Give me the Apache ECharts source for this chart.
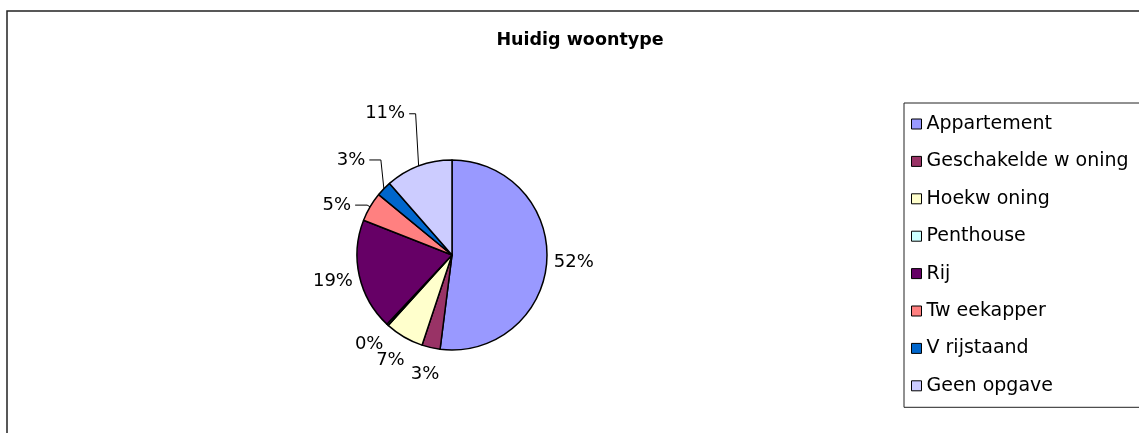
<!DOCTYPE html>
<html>
<head>
<meta charset="utf-8">
<script src="https://cdn.jsdelivr.net/npm/echarts@6/dist/echarts.min.js"></script>
<style>
  html, body { margin: 0; padding: 0; background: #fff; }
  #chart { width: 1139px; height: 433px; }
</style>
</head>
<body>
<div id="chart"></div>
<script>
const titleText = 'Huidig woontype';
const categories = ['Appartement', 'Geschakelde w oning', 'Hoekw oning', 'Penthouse', 'Rij', 'Tw eekapper', 'V rijstaand', 'Geen opgave'];
const values = [51.9, 3.1, 6.6, 0.3, 18.9, 5.0, 2.6, 11.4];
const colors = ['#9999FF', '#993366', '#FFFFCC', '#CCFFFF', '#660066', '#FF8080', '#0066CC', '#CCCCFF'];

// layout settings (not data)
const CX = 452, CY = 255, R = 95;
const LABEL_R = R + 27;
const FONT = 'DejaVu Sans';
const leaderShift = { 5: [-10, 12], 6: [-13.5, -10], 7: [-24, -27] };

const total = values.reduce((a, b) => a + b, 0);

const chart = echarts.init(document.getElementById('chart'), null, { renderer: 'canvas' });

const data = categories.map((name, i) => ({
  name: name,
  value: values[i],
  itemStyle: { color: colors[i] },
  labelLine: { show: !!leaderShift[i] }
}));

chart.setOption({
  animation: false,
  backgroundColor: '#fff',
  title: {
    text: titleText,
    left: 580,
    top: 31,
    textAlign: 'center',
    padding: 0,
    textStyle: { fontFamily: FONT, fontWeight: 'bold', fontSize: 17.5, color: '#000' }
  },
  legend: {
    orient: 'vertical',
    left: 904,
    top: 103,
    data: categories,
    icon: 'rect',
    itemWidth: 10,
    itemHeight: 10,
    itemGap: 18.4,
    itemTextGap: 12,
    itemStyle: { borderColor: '#000', borderWidth: 1 },
    padding: [11.5, 30, 12, 7],
    backgroundColor: '#fff',
    borderColor: '#222',
    borderWidth: 1,
    selectedMode: false,
    textStyle: { fontFamily: FONT, fontSize: 19, color: '#000', lineHeight: 19 }
  },
  graphic: [{
    type: 'rect',
    z: 100,
    silent: true,
    shape: { x: 7, y: 11, width: 1250, height: 520 },
    style: { fill: 'none', stroke: '#222', lineWidth: 1.5 }
  }],
  series: [{
    type: 'pie',
    center: [CX, CY],
    radius: R,
    startAngle: 90,
    clockwise: true,
    avoidLabelOverlap: false,
    data: data,
    itemStyle: { borderColor: '#000', borderWidth: 1.5 },
    emphasis: { disabled: true },
    label: {
      show: true,
      position: 'outside',
      fontFamily: FONT,
      fontSize: 18,
      lineHeight: 18,
      color: '#000',
      formatter: p => Math.round(p.percent) + '%'
    },
    labelLine: {
      show: false,
      length: 5,
      length2: 5,
      lineStyle: { color: '#000', width: 1 }
    },
    labelLayout: function (p) {
      const i = p.dataIndex;
      let before = 0;
      for (let k = 0; k < i; k++) before += values[k];
      const mid = (before + values[i] / 2) / total * 2 * Math.PI;
      const sx = Math.sin(mid), sy = -Math.cos(mid);
      const w = p.labelRect.width;
      let x = CX + LABEL_R * sx, y = CY + LABEL_R * sy;
      const res = { x: x, y: y, align: 'center', verticalAlign: 'middle' };
      const s = leaderShift[i];
      if (s) {
        x += s[0]; y += s[1];
        res.x = x; res.y = y;
        const ex = CX + R * sx, ey = CY + R * sy;
        res.labelLinePoints = [[ex, ey], [ex - 3, y], [x + w / 2 + 4, y]];
      }
      return res;
    }
  }]
});
</script>
</body>
</html>
